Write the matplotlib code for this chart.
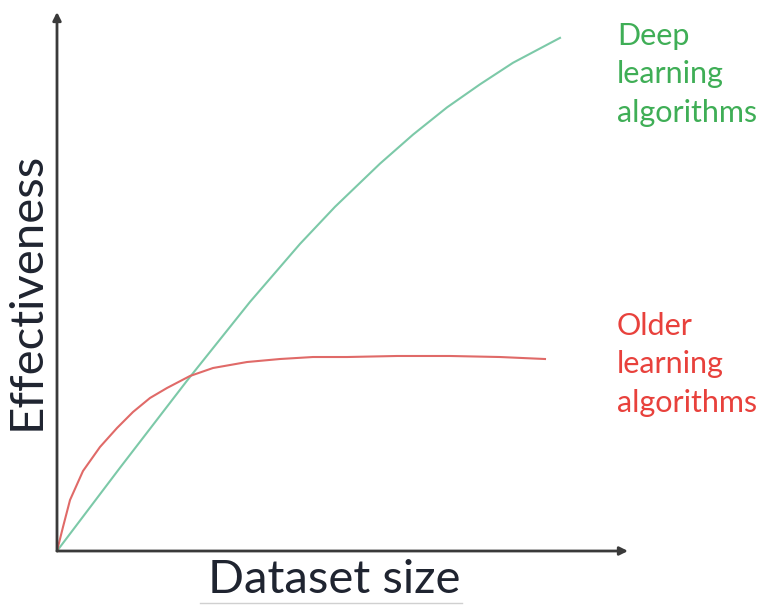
import matplotlib
matplotlib.use("Agg")
import matplotlib.pyplot as plt
from matplotlib.lines import Line2D

# Data (arbitrary units: dataset size 0-100, effectiveness 0-100)
deep_x = [0, 11.03, 22.77, 33.80, 42.56, 48.69, 56.57, 62.35, 68.30, 74.08, 79.86, 88.09]
deep_y = [0, 15.44, 31.60, 46.22, 56.98, 63.86, 71.87, 77.25, 82.30, 86.58, 90.58, 95.20]
old_x = [0, 1.05, 2.28, 4.55, 7.53, 10.51, 13.31, 16.29, 19.26, 23.29, 27.32, 33.27,
         39.05, 44.83, 50.79, 59.54, 68.83, 77.58, 85.46]
old_y = [0, 4.45, 9.46, 14.84, 19.30, 22.82, 25.79, 28.39, 30.24, 32.47, 33.95, 35.06,
         35.62, 35.99, 35.99, 36.18, 36.18, 35.99, 35.62]
x_label = "Dataset size"
y_label = "Effectiveness"
deep_label = "Deep\nlearning\nalgorithms"
old_label = "Older\nlearning\nalgorithms"

W, H = 767, 605
fig = plt.figure(figsize=(W / 100, H / 100), dpi=100)
plt.rcParams['font.family'] = ['Lato', 'DejaVu Sans']
ax = fig.add_axes([57 / W, (H - 551) / H, (628 - 57) / W, (551 - 12) / H])
ax.set_xlim(0, 100)
ax.set_ylim(0, 100)
for s in ax.spines.values():
    s.set_visible(False)
ax.set_xticks([])
ax.set_yticks([])
ax.patch.set_alpha(0)

axis_col = "#3a3a3a"
ax.annotate("", xy=(0, 1), xytext=(0, 0), xycoords="axes fraction",
            arrowprops=dict(arrowstyle="-|>", color=axis_col, lw=2, mutation_scale=12,
                            shrinkA=0, shrinkB=0))
ax.annotate("", xy=(1, 0), xytext=(0, 0), xycoords="axes fraction",
            arrowprops=dict(arrowstyle="-|>", color=axis_col, lw=2, mutation_scale=12,
                            shrinkA=0, shrinkB=0))

ax.plot(deep_x, deep_y, color="#7cc9a8", lw=1.5, clip_on=False, solid_joinstyle="round")
ax.plot(old_x, old_y, color="#e06a68", lw=1.5, clip_on=False, solid_joinstyle="round")

fig.text(27 / W, 1 - 291 / H, y_label, rotation=90, ha="center", va="center",
         fontsize=34, color="#1f2430")
fig.text(334 / W, 1 - 580 / H, x_label, ha="center", va="center",
         fontsize=34, color="#1f2430")
fig.add_artist(Line2D([200 / W, 462 / W], [1 - 603 / H, 1 - 603 / H],
                      color="#d0d0d0", lw=1))
fig.text(617 / W, 1 - 22 / H, deep_label, ha="left", va="top",
         fontsize=22, color="#3fae56", linespacing=1.45)
fig.text(617 / W, 1 - 312 / H, old_label, ha="left", va="top",
         fontsize=22, color="#e8413c", linespacing=1.45)

fig.savefig("out.png", dpi=100)
